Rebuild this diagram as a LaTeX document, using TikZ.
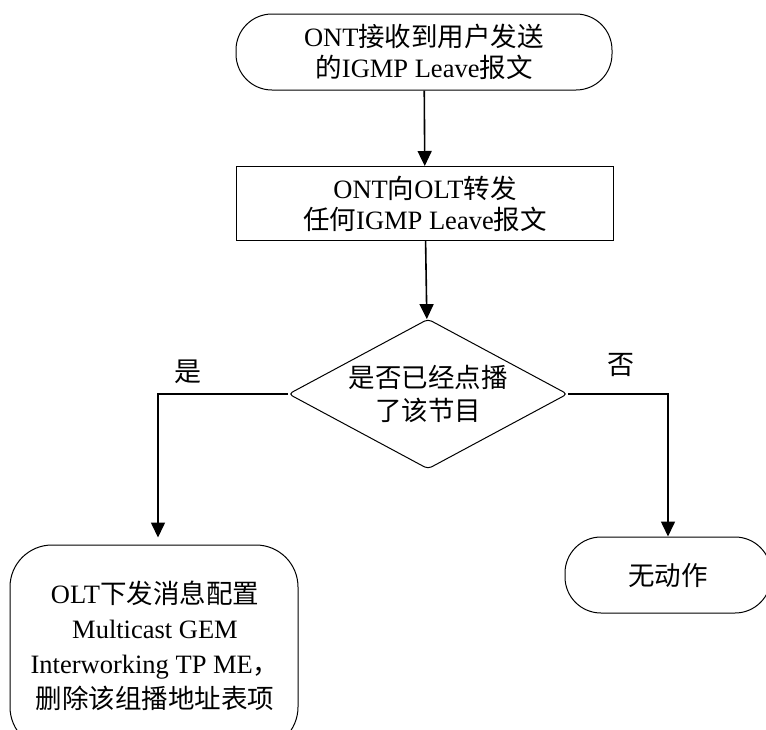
\documentclass[tikz,border=0pt]{standalone}
\usepackage{fontspec}
\setmainfont{Liberation Serif}
\newfontfamily\cjk{Noto Sans CJK SC}
\usetikzlibrary{shapes.geometric,arrows.meta}

\begin{document}
\begin{tikzpicture}[x=1pt,y=-1pt,
  every node/.style={font=\fontsize{26.5}{31}\selectfont, align=center, inner sep=0pt},
  shape border/.style={draw, line width=1pt},
  terminal/.style={shape border, rectangle, rounded corners=36pt,
    minimum height=76pt},
  process/.style={shape border, rectangle, minimum height=74pt},
  decision/.style={shape border, diamond, rounded corners=4pt,
    minimum width=279pt, minimum height=150pt},
  flow/.style={line width=1.6pt, -{Triangle[length=15pt,width=14pt]}},
  branch label/.style={font=\fontsize{27}{32}\selectfont\cjk},
]
\useasboundingbox (0,0) rectangle (766,729);
\clip (0,0) rectangle (766,729);

% main column
\node[terminal, minimum width=376pt] (start) at (424,52)
  {ONT{\cjk 接收到用户发送}\\{\cjk 的}IGMP Leave{\cjk 报文}};
\node[process, minimum width=377pt] (fwd) at (425,203.5)
  {ONT{\cjk 向}OLT{\cjk 转发}\\{\cjk 任何}IGMP Leave{\cjk 报文}};
\node[decision] (ask) at (428,394) {};
\node[font=\fontsize{26.5}{33}\selectfont] (asktext) at (ask.center)
  {{\cjk 是否已经点播}\\{\cjk 了该节目}};

% outcomes
\node[terminal, rounded corners=42pt, minimum width=288pt, minimum height=204pt]
  (del) at (154,647) {};
\node[font=\fontsize{26.5}{35}\selectfont] (deltext) at (155,646)
  {OLT{\cjk 下发消息配置}\\Multicast GEM\\Interworking TP ME{\cjk ，}\\{\cjk 删除该组播地址表项}};
\node[terminal, minimum width=206pt] (none) at (668,575) {\cjk 无动作};

% connectors
\draw[flow] (start) -- (fwd);
\draw[flow] (fwd) -- (ask);
\coordinate (yesturn) at (158,0);
\draw[flow, shorten >=7pt] (ask.west) -| (yesturn |- del.north);
\draw[flow] (ask.east) -| (none.north);

% branch labels
\node[branch label] (yes) at (188,372) {是};
\node[branch label] (no) at (621,365) {否};
\end{tikzpicture}
\end{document}
